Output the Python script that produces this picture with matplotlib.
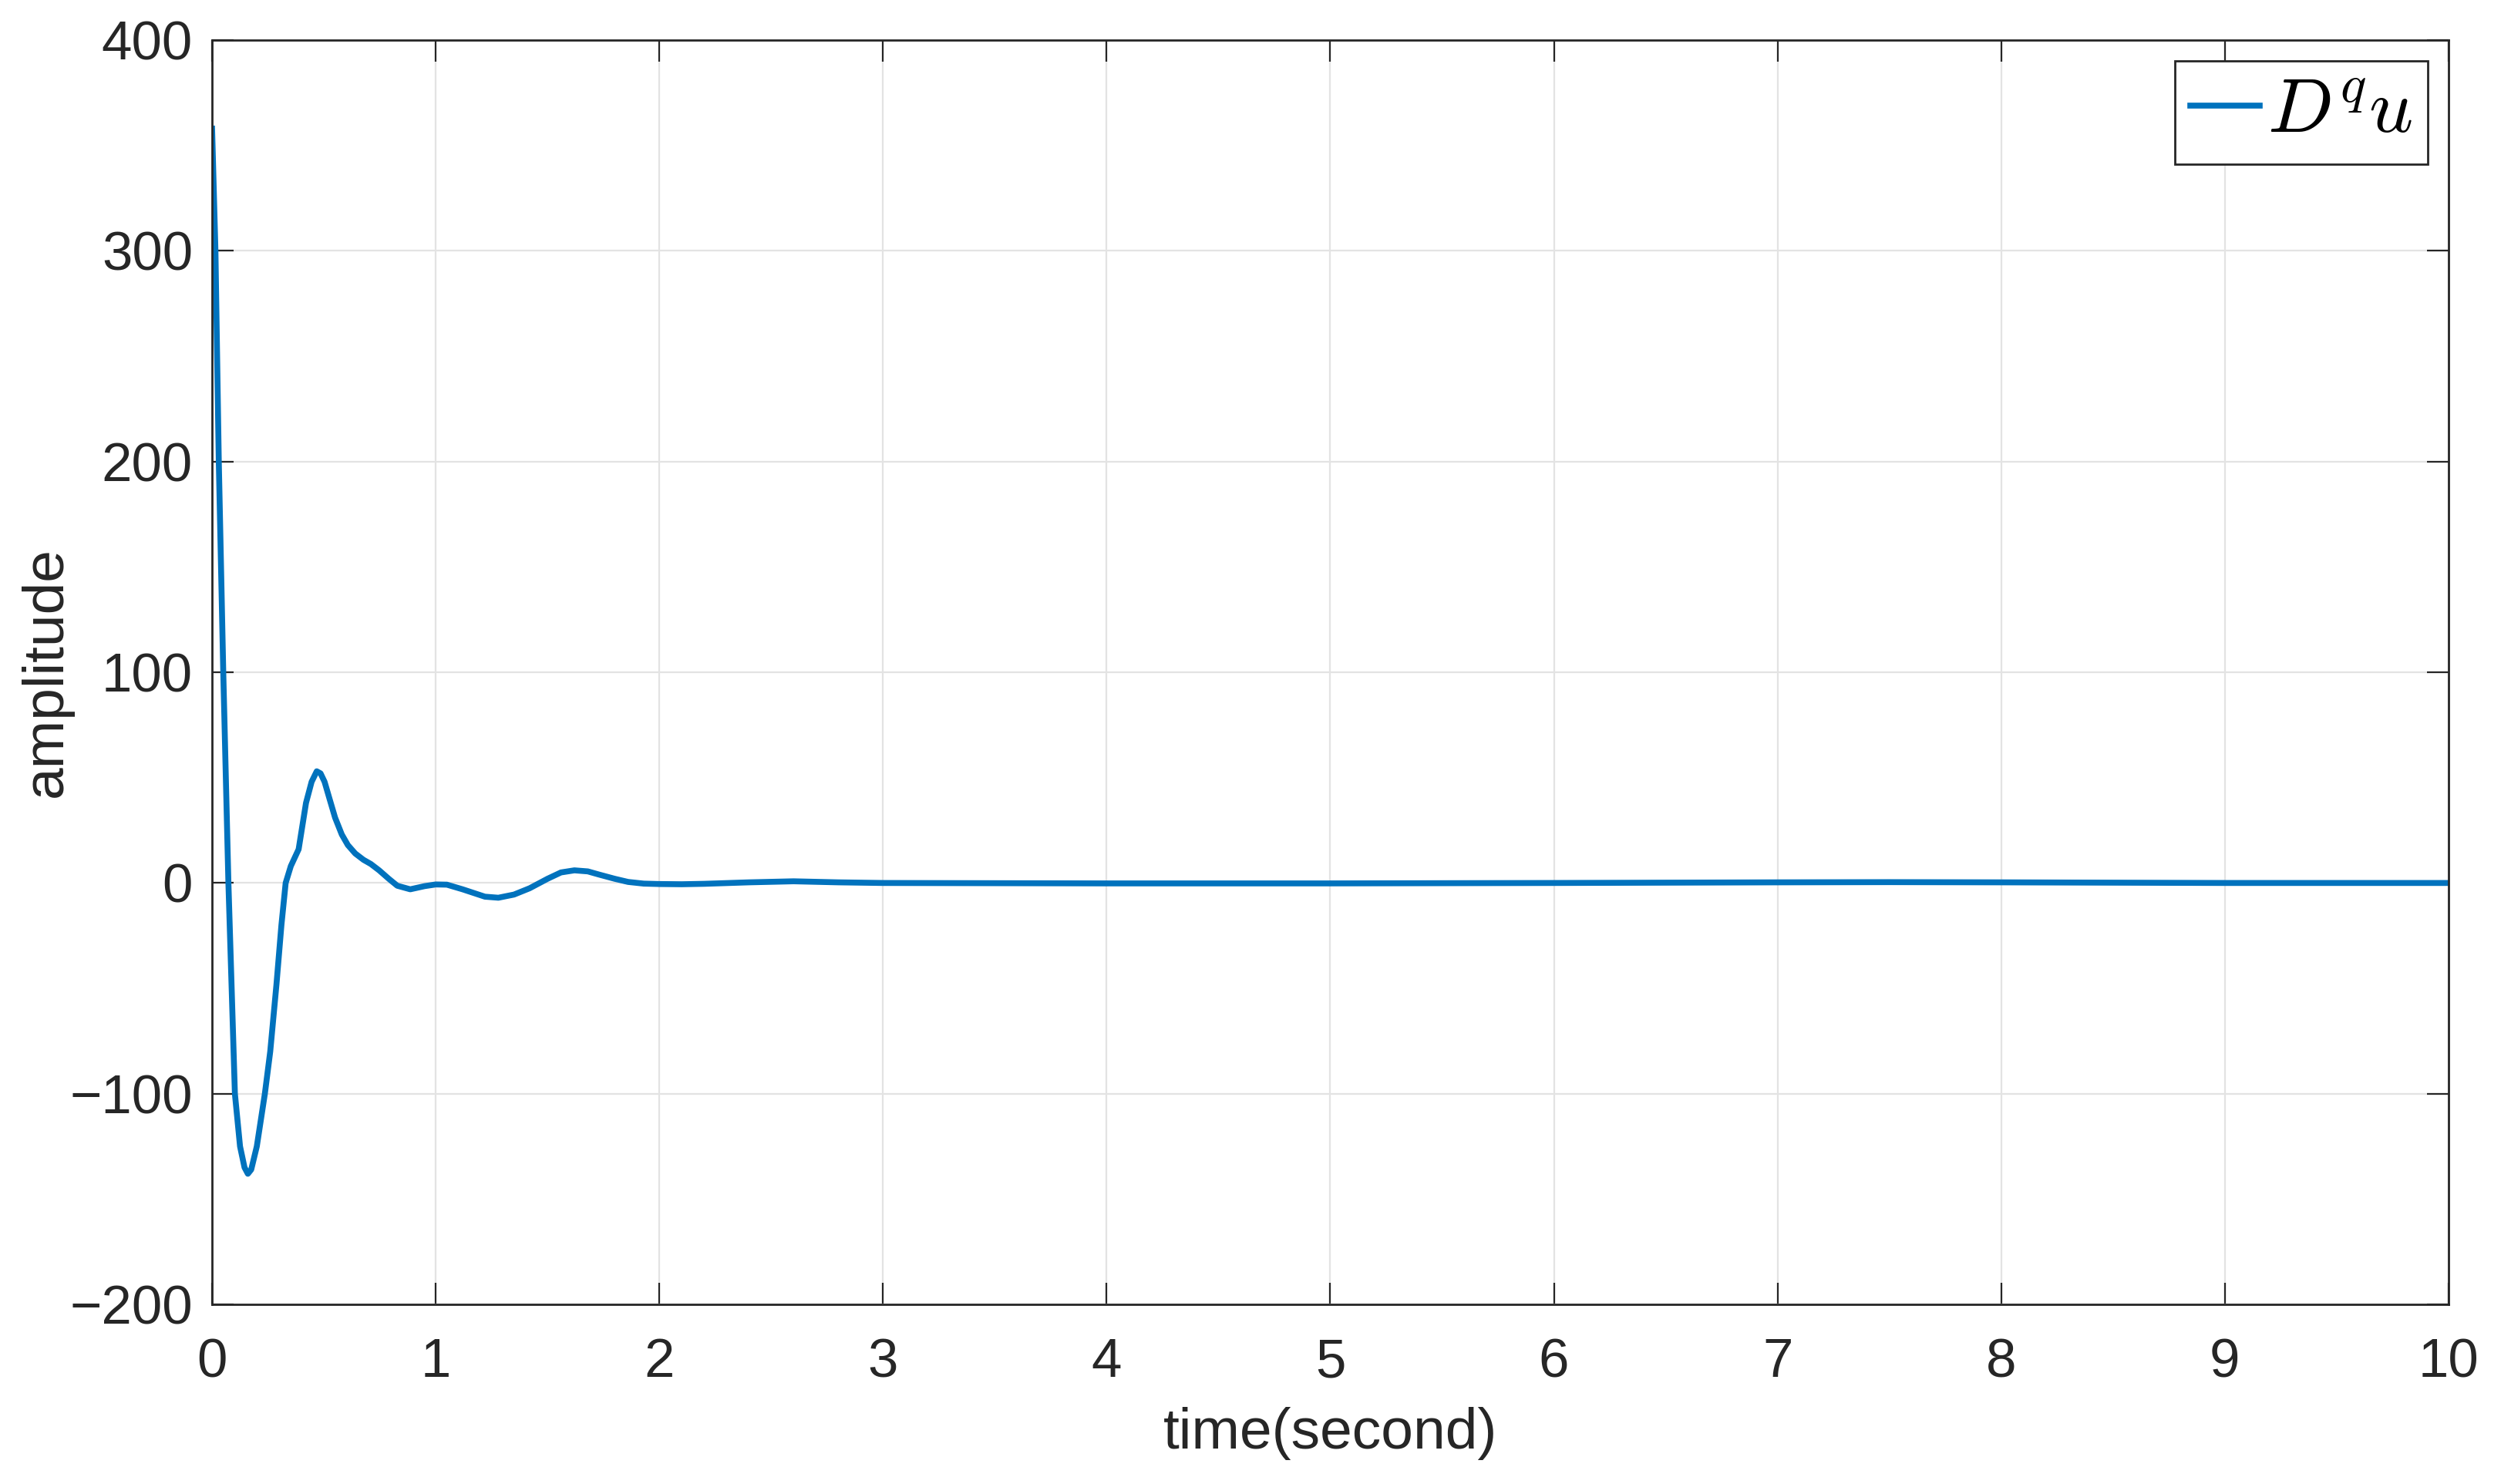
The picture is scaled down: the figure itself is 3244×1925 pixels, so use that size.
import numpy as np
import matplotlib
matplotlib.use("Agg")
import matplotlib.pyplot as plt

plt.rcParams['font.family'] = ['Liberation Sans', 'DejaVu Sans']
plt.rcParams['mathtext.fontset'] = 'cm'

# values
t = [0.0, 0.015, 0.03, 0.05, 0.073, 0.102, 0.125, 0.145, 0.16, 0.175, 0.2,
     0.236, 0.26, 0.288, 0.31, 0.329, 0.352, 0.387, 0.42, 0.445, 0.468,
     0.485, 0.503, 0.525, 0.55, 0.58, 0.607, 0.64, 0.677, 0.71, 0.747,
     0.79, 0.828, 0.886, 0.95, 1.0, 1.05, 1.12, 1.22, 1.28, 1.35, 1.42,
     1.5, 1.56, 1.62, 1.68, 1.73, 1.8, 1.86, 1.93, 2.0, 2.1, 2.2, 2.4,
     2.6, 2.8, 3.0, 4.0, 5.0, 6.0, 7.0, 7.5, 8.0, 9.0, 10.0]
amp = [358, 300, 200, 100, 0, -100, -125, -135, -138, -136, -125,
       -100, -80, -48, -20, 0, 8, 16, 38, 48, 53,
       52, 48, 40, 31, 23, 18, 14, 11, 9, 6,
       2, -1.3, -3, -1.5, -0.7, -0.8, -3, -6.5, -7, -5.5, -2.5,
       2, 5, 6, 5.5, 4, 2, 0.5, -0.3, -0.5, -0.6, -0.4, 0.3,
       0.8, 0.3, 0, -0.2, -0.2, 0, 0.3, 0.4, 0.3, 0, 0]

xticks = list(range(0, 11))
yticks = [-200, -100, 0, 100, 200, 300, 400]

fig = plt.figure(figsize=(32.44, 19.25), dpi=100)
ax = fig.add_axes([0.0848, 0.121, 0.8942, 0.852])

ax.plot(t, amp, color='#0072BD', lw=5.5, label=r'$D^q u$')

ax.set_xlim(0, 10)
ax.set_ylim(-200, 400)
ax.set_xticks(xticks)
ax.set_yticks(yticks)
ax.grid(True, color='#e3e3e3', lw=1.6)
ax.set_axisbelow(True)

ax.tick_params(direction='in', length=20, width=1.6, top=True, right=True,
               labelsize=51, colors='#262626')
ax.tick_params(axis='x', pad=31)
ax.tick_params(axis='y', pad=18)
for s in ax.spines.values():
    s.set_linewidth(2.0)
    s.set_color('#262626')

ax.set_xlabel('time(second)', fontsize=54, color='#262626', labelpad=17)
ax.set_ylabel('amplitude', fontsize=54, color='#262626', labelpad=-3)

leg = ax.legend(loc='upper right', fontsize=72, handlelength=0.9,
                handletextpad=0.1, borderpad=0.2, fancybox=False,
                framealpha=1, edgecolor='#262626', borderaxespad=0.27)
leg.get_frame().set_linewidth(2.0)

fig.savefig('out.png', dpi=100)
